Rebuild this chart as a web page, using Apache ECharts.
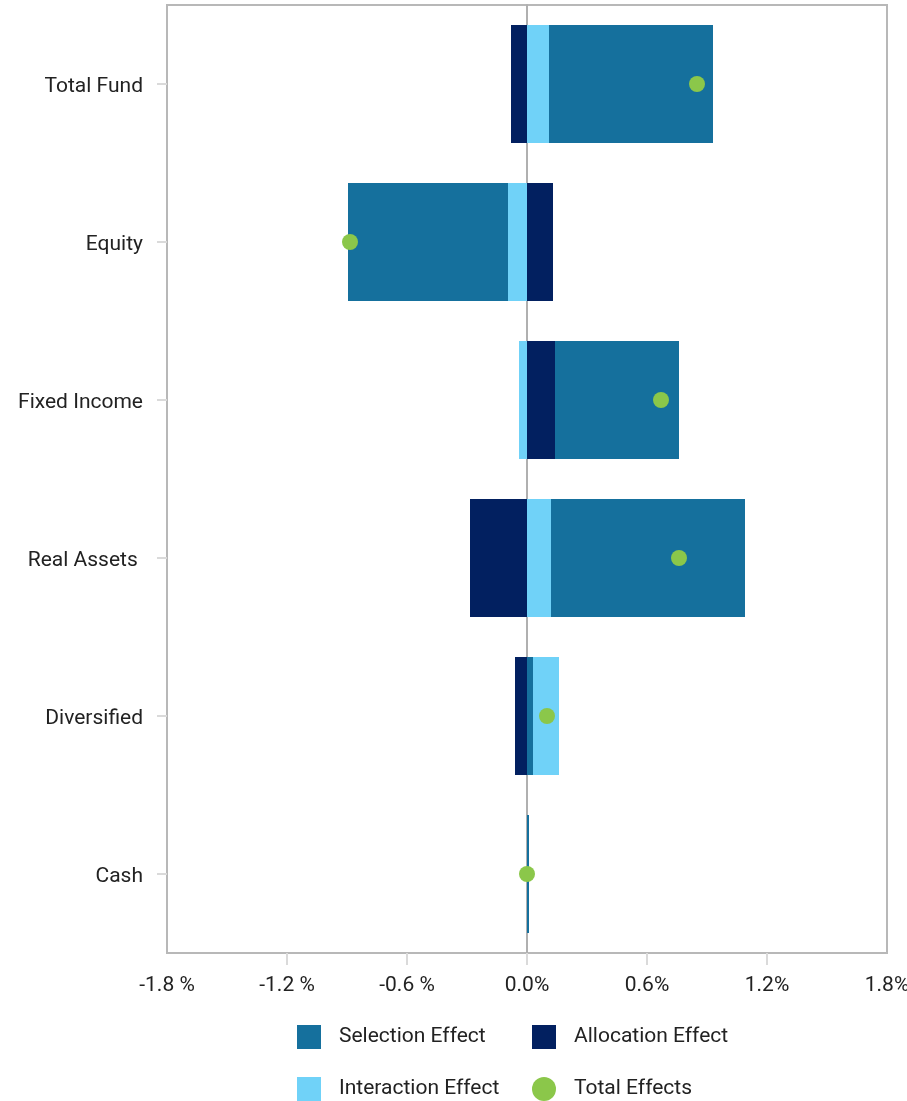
<!DOCTYPE html>
<html>
<head>
<meta charset="utf-8">
<title>Attribution Effects</title>
<script src="https://cdn.jsdelivr.net/npm/echarts@6/dist/echarts.min.js"></script>
<style>
  html, body { margin: 0; padding: 0; background: #fff; }
  #chart { width: 907px; height: 1101px; }
</style>
</head>
<body>
<div id="chart"></div>
<script>
// Attribution by asset class, in percent
const categories = ['Total Fund', 'Equity', 'Fixed Income', 'Real Assets ', 'Diversified', 'Cash'];
const selectionEffect   = [0.82, -0.80, 0.62, 0.97, 0.03, 0.01];
const allocationEffect  = [-0.08, 0.13, 0.14, -0.285, -0.06, 0];
const interactionEffect = [0.11, -0.095, -0.04, 0.12, 0.13, 0];
const totalEffects      = [0.85, -0.885, 0.67, 0.76, 0.10, 0.0];
const xTicks = [-1.8, -1.2, -0.6, 0, 0.6, 1.2, 1.8];
// Categories whose selection segment sits next to the allocation segment
const selectionInner = ['Diversified'];

const COLORS = {
  selection: '#15709d',
  allocation: '#022060',
  interaction: '#70d2f8',
  total: '#8bc74a'
};
const FONT = 'Roboto, "Noto Sans", sans-serif';
const TEXT = { color: '#222', fontSize: 21, fontFamily: FONT };

const inner = categories.map((c, i) => selectionInner.includes(c) ? selectionEffect[i] : '-');
const outer = categories.map((c, i) => selectionInner.includes(c) ? '-' : selectionEffect[i]);

const barBase = { type: 'bar', stack: 'effects', barWidth: 118, yAxisIndex: 0 };

// one legend entry per slot of a two-column layout
function legendItem(name, icon, left, top) {
  return {
    data: [{ name: name, icon: icon }],
    left: left, top: top,
    padding: 0,
    itemWidth: 24, itemHeight: 24,
    textStyle: Object.assign({}, TEXT, { padding: [3, 0, 0, 13] })
  };
}

const chart = echarts.init(document.getElementById('chart'));
chart.setOption({
  animation: false,
  grid: {
    left: 167, right: 20, top: 5, bottom: 148,
    outerBoundsMode: 'none',
    show: true, borderColor: '#b8b8b8', borderWidth: 2, backgroundColor: 'transparent'
  },
  xAxis: {
    type: 'value',
    min: xTicks[0],
    max: xTicks[xTicks.length - 1],
    interval: 0.6,
    axisLine: { show: false },
    splitLine: { show: false },
    axisTick: {
      show: true, length: 12,
      customValues: xTicks.slice(1, -1),
      lineStyle: { color: '#dadada', width: 2 }
    },
    axisLabel: Object.assign({}, TEXT, {
      margin: 22,
      customValues: xTicks,
      formatter: v => v < 0 ? v.toFixed(1) + ' %' : Math.abs(v).toFixed(1) + '%'
    })
  },
  yAxis: [
    {
      type: 'category',
      data: categories,
      inverse: true,
      axisLine: { show: false, onZero: false },
      axisTick: { show: true, alignWithLabel: true, length: 10, lineStyle: { color: '#dadada', width: 2 } },
      axisLabel: Object.assign({}, TEXT, {
        margin: 24,
        formatter: v => '{c|' + v + '}',
        rich: { c: Object.assign({}, TEXT, { padding: [6, 0, 0, 0] }) }
      })
    },
    {
      // zero reference line
      type: 'category',
      data: categories,
      inverse: true,
      position: 'left',
      axisLine: { show: true, onZero: true, lineStyle: { color: '#b0b0b0', width: 2 } },
      axisTick: { show: false },
      axisLabel: { show: false },
      splitLine: { show: false }
    }
  ],
  legend: [
    legendItem('Selection Effect', 'rect', 297, 1025),
    legendItem('Allocation Effect', 'rect', 532, 1025),
    legendItem('Interaction Effect', 'rect', 297, 1077),
    legendItem('Total Effects', 'circle', 532, 1077)
  ],
  series: [
    Object.assign({}, barBase, { name: 'Allocation Effect', data: allocationEffect, itemStyle: { color: COLORS.allocation } }),
    Object.assign({}, barBase, { name: 'Selection Effect', data: inner, itemStyle: { color: COLORS.selection } }),
    Object.assign({}, barBase, { name: 'Interaction Effect', data: interactionEffect, itemStyle: { color: COLORS.interaction } }),
    Object.assign({}, barBase, { name: 'Selection Effect', data: outer, itemStyle: { color: COLORS.selection } }),
    {
      name: 'Total Effects',
      type: 'scatter',
      yAxisIndex: 0,
      symbol: 'circle',
      symbolSize: 16,
      z: 5,
      data: totalEffects,
      itemStyle: { color: COLORS.total, opacity: 1 }
    }
  ]
});
</script>
</body>
</html>
